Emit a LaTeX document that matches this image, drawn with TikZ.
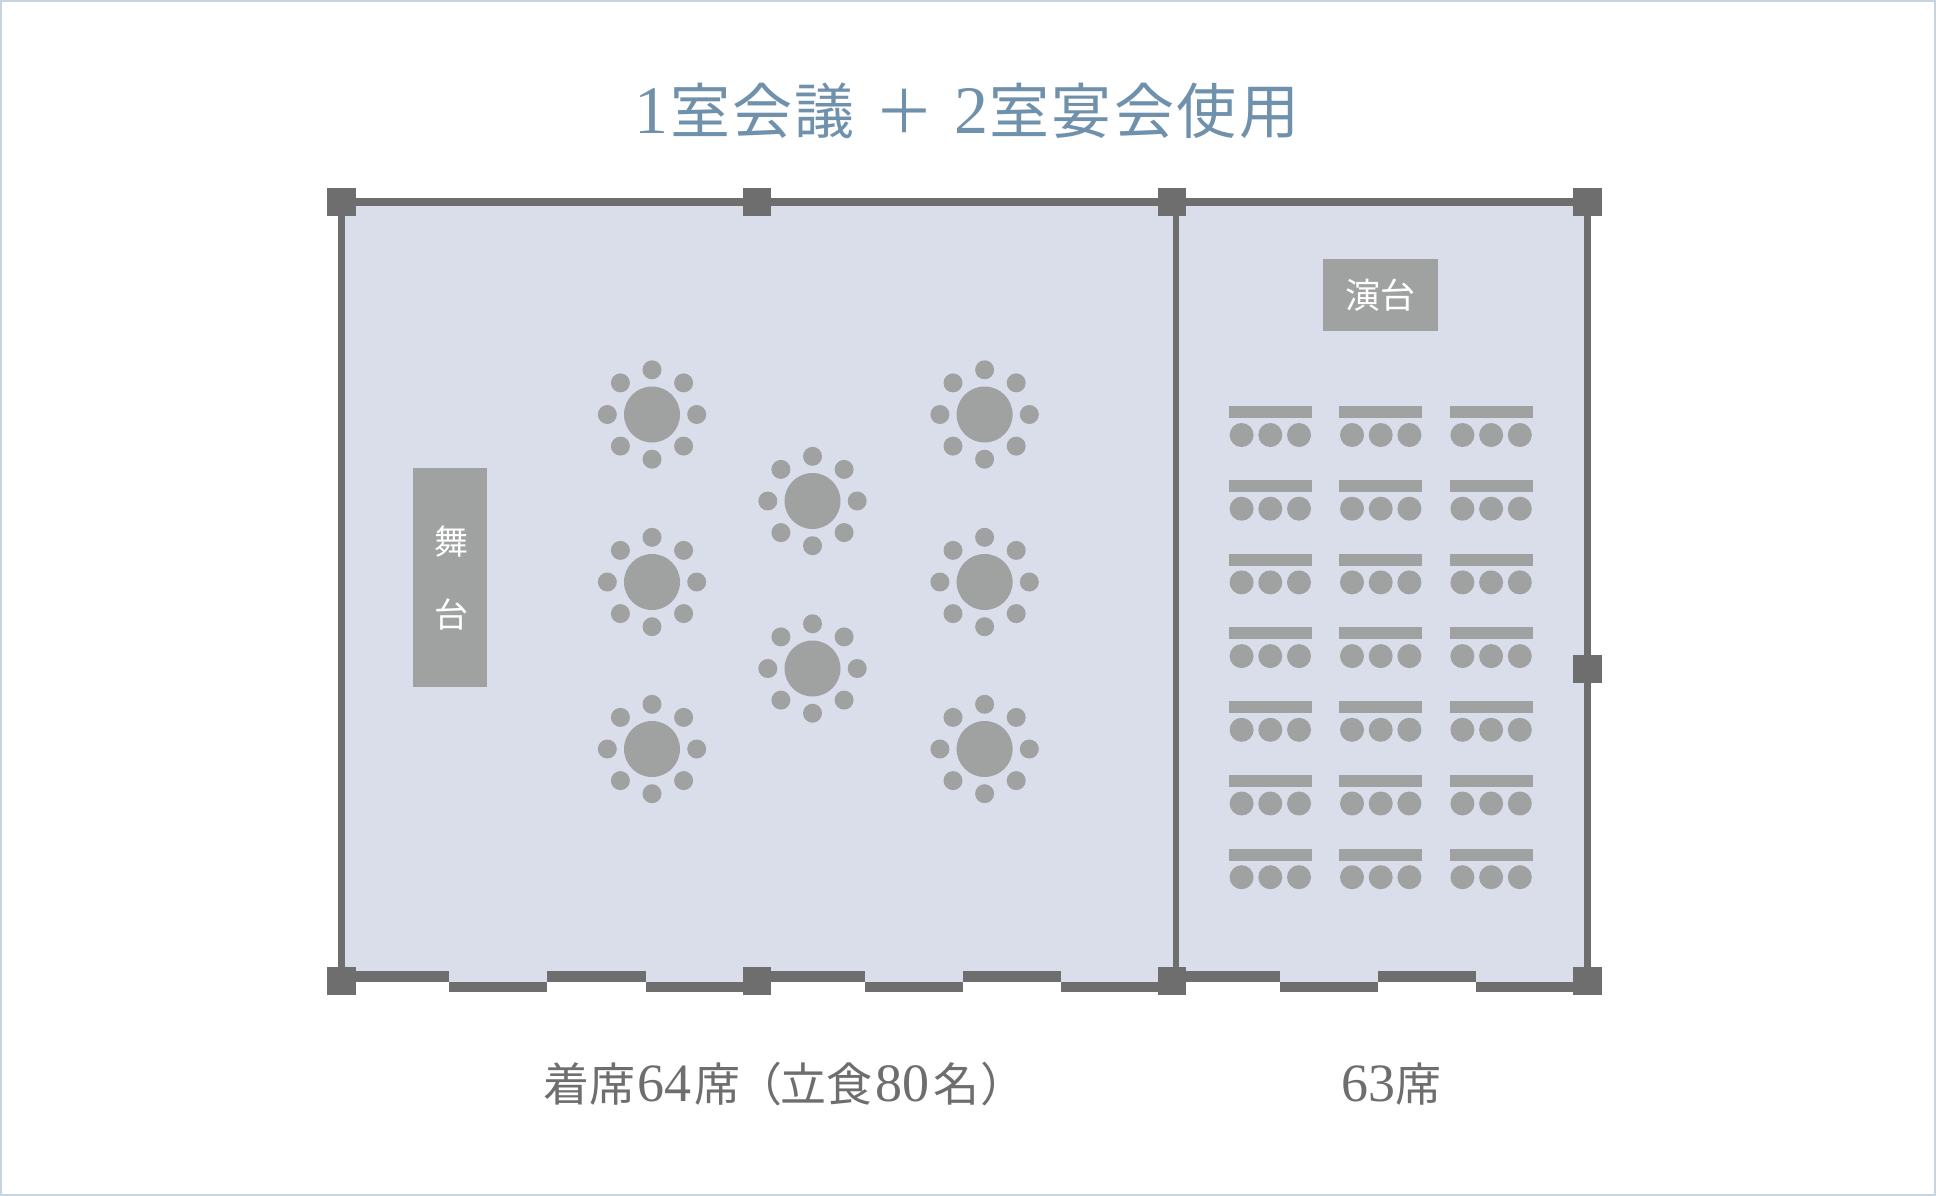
\documentclass[tikz,border=0pt]{standalone}
\usepackage{fontspec}
\usetikzlibrary{calc}
\setmainfont{Noto Sans CJK JP}
\newfontfamily\dg{Liberation Serif}
\definecolor{wallc}{HTML}{6E6E6E}
\definecolor{furn}{HTML}{A0A2A1}
\definecolor{roomc}{HTML}{D9DEEA}
\definecolor{framec}{HTML}{C6D3E0}
\definecolor{titlec}{HTML}{7091AC}
\definecolor{labelc}{HTML}{6E6E6E}
\newcommand{\dgt}[1]{{\dg\fontsize{68}{68}\selectfont #1}}
\newcommand{\dgc}[1]{{\dg\fontsize{54}{54}\selectfont #1}}
\tikzset{
  pillar/.style={fill=wallc,draw=none,minimum size=28.5pt,inner sep=0pt,outer sep=0pt},
  wall/.style={draw=wallc,line width=7.5pt},
  roundtable/.style={circle,fill=furn,draw=none,minimum size=56pt,inner sep=0pt,outer sep=0pt},
  roundseat/.style={circle,fill=furn,draw=none,minimum size=19pt,inner sep=0pt,outer sep=0pt},
  desk/.style={fill=furn,draw=none,minimum width=83pt,minimum height=12pt,inner sep=0pt,outer sep=0pt},
  deskseat/.style={circle,fill=furn,draw=none,minimum size=24pt,inner sep=0pt,outer sep=0pt},
  platform/.style={fill=furn,draw=none,inner sep=0pt,outer sep=0pt,text=white},
  captext/.style={text=labelc,inner sep=0pt,font=\fontsize{46}{54}\selectfont},
  whitetext/.style={text=white,inner sep=0pt,font=\fontsize{34}{40}\selectfont}
}
\begin{document}
\begin{tikzpicture}[x=1pt,y=-1pt]
\useasboundingbox (0,0) rectangle (1936,1196);
\fill[white] (0,0) rectangle (1936,1196);
\draw[framec,line width=2pt] (1,1) rectangle (1935,1195);
% room
\fill[roomc] (342,201) rectangle (1588,982);
% walls, between pillar positions
\coordinate (c1) at (341.5,202);
\coordinate (c2) at (757,202);
\coordinate (c3) at (1172,202);
\coordinate (c4) at (1587.5,202);
\coordinate (c5) at (1587.5,669);
\coordinate (c6) at (341.5,981);
\coordinate (c9) at (1587.5,981);
\draw[wall] (c1) -- (c4);
\draw[wall] (c1) -- (c6);
\draw[wall] (c4) -- (c9);
\coordinate (m1) at (1175.75,216);
\coordinate (m2) at (1175.75,967);
\draw[draw=wallc,line width=5.5pt] (m1) -- (m2);
% bottom windows
\foreach \a/\b in {356/449,547/646,771/865,963/1061,1186/1280,1378/1476}
  \fill[wallc] (\a,971) rectangle (\b,981.5);
\foreach \a/\b in {449/547,646/743,865/963,1061/1158,1280/1378,1476/1574}
  \fill[wallc] (\a,981.5) rectangle (\b,992);
% pillars
\node[pillar] (p1) at (c1) {};
\node[pillar] (p2) at (c2) {};
\node[pillar] (p3) at (c3) {};
\node[pillar] (p4) at (c4) {};
\node[pillar] (p5) at (c5) {};
\node[pillar] (p6) at (c6) {};
\node[pillar] (p7) at (757,981) {};
\node[pillar] (p8) at (1172,981) {};
\node[pillar] (p9) at (c9) {};
% stage
\node[platform,minimum width=74pt,minimum height=219.5pt] (stage) at (450,577.3) {};
\node[whitetext] (s1) at (451,542) {舞};
\node[whitetext] (s2) at (451,615) {台};
% podium
\node[platform,minimum width=115pt,minimum height=72pt,font=\fontsize{35}{40}\selectfont] (podium) at (1380.5,295) {演台};
% round tables
\foreach \x/\y [count=\i] in {652/414.5,652/582,652/749,984.6/414.5,984.6/582,984.6/749,812.5/501,812.5/668.5}{
  \node[roundtable] (t\i) at (\x,\y) {};
  \foreach \ang in {0,45,...,315}
    \node[roundseat] (t\i s\ang) at ($(t\i)+(\ang:44.7)$) {};
}
% classroom tables
\foreach \r in {0,...,6}{
  \foreach \c in {0,1,2}{
    \pgfmathsetmacro{\dx}{1270.3+110.4*\c}
    \pgfmathsetmacro{\dy}{412.3+73.7*\r}
    \node[desk] (d\r\c) at (\dx,\dy) {};
    \foreach \k in {-1,0,1}
      \node[deskseat] (d\r\c s\k) at ($(d\r\c)+(\k*28.7,22.7)$) {};
  }
}
% texts
\node[text=titlec,inner sep=0pt,font=\fontsize{60}{70}\selectfont] (title) at (967,111)
  {\dgt{1}\hspace{1.5pt}室\hspace{2.5pt}会\hspace{2.5pt}議\hspace{19pt}＋\hspace{20pt}\dgt{2}\hspace{1.5pt}室\hspace{2.5pt}宴\hspace{2.5pt}会\hspace{2.5pt}使\hspace{2.5pt}用};
\node[captext] (cap1) at (785,1084) {着席\hspace{2pt}\dgc{64}\hspace{3pt}席\hspace{-4pt}（\hspace{-2pt}立食\hspace{3pt}\dgc{80}\hspace{4pt}名\hspace{2pt}）};
\node[captext] (cap2) at (1391,1084) {\dgc{63}席};
\end{tikzpicture}
\end{document}
